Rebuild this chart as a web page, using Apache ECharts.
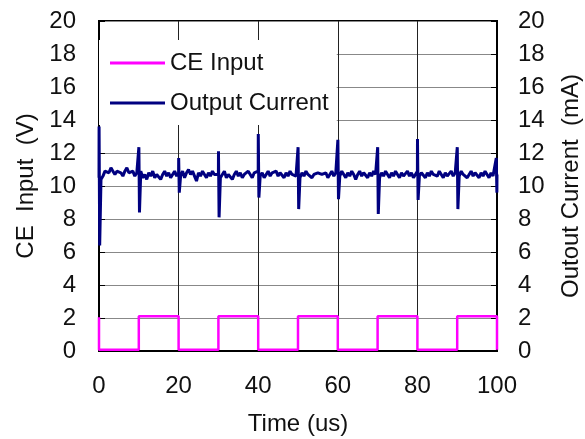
<!DOCTYPE html>
<html>
<head>
<meta charset="utf-8">
<script src="https://cdn.jsdelivr.net/npm/echarts@6/dist/echarts.min.js"></script>
<style>html,body{margin:0;padding:0;background:#fff}#c{width:585px;height:439px}</style>
</head>
<body>
<div id="c"></div>
<script>
// CE Input square wave: [time (us), volts]
const ceInput = [
  [0, 2.05], [0, 0.08], [10, 0.08], [10, 2.1], [20, 2.1], [20, 0.08],
  [30, 0.08], [30, 2.1], [40, 2.1], [40, 0.08], [50, 0.08], [50, 2.1],
  [60, 2.1], [60, 0.08], [70, 0.08], [70, 2.1], [80, 2.1], [80, 0.08],
  [90, 0.08], [90, 2.1], [100, 2.1], [100, 0.08]
];
// Output current baseline, sampled every 0.5 us from 0 to 100 (mA)
const currentStep = 0.5;
const currentBase = [
  10.5,10.4,10.6,10.9,11.0,10.8,11.1,10.9,10.7,10.9,11.0,10.8,10.6,10.9,11.1,10.8,10.7,10.9,10.6,10.8,
  10.7,10.9,10.5,10.7,10.4,10.8,10.6,10.9,10.5,10.7,10.8,10.4,10.7,10.9,10.6,10.8,10.5,10.7,10.9,10.6,
  10.8,10.6,10.9,10.5,10.8,11.0,10.7,10.9,10.6,10.3,10.8,10.6,10.9,10.7,10.5,10.8,10.6,10.9,10.7,10.8,
  10.7,10.5,10.6,10.9,10.5,10.7,10.8,10.4,10.7,10.9,10.6,10.8,10.5,10.7,10.6,10.9,10.7,10.5,10.8,10.7,
  10.9,10.6,10.8,10.5,10.7,10.9,10.6,10.8,10.7,10.9,10.6,10.8,10.7,10.5,10.8,10.6,10.9,10.7,10.8,10.6,
  10.7,10.5,10.8,10.6,10.9,10.7,10.8,10.5,10.7,10.6,10.8,10.9,10.7,10.6,10.8,10.5,10.7,10.9,10.6,10.8,
  10.8,10.6,10.9,10.7,10.5,10.8,10.6,10.9,10.7,10.4,10.7,10.9,10.6,10.8,10.7,10.5,10.8,10.6,10.9,10.7,
  10.7,10.5,10.8,10.6,10.9,10.7,10.5,10.8,10.6,10.9,10.7,10.5,10.8,10.6,10.7,10.9,10.6,10.8,10.5,10.7,
  10.9,10.6,10.8,10.7,10.5,10.8,10.6,10.9,10.7,10.8,10.6,10.9,10.7,10.5,10.8,10.6,10.7,10.9,10.6,10.8,
  10.8,10.6,10.9,10.7,10.8,10.5,10.7,10.9,10.6,10.8,10.7,10.5,10.8,10.6,10.9,10.7,10.5,10.8,10.6,10.7,
  10.7
];
// Switching spikes: [time (us), peak high, peak low]
const currentSpikes = [
  [0, 13.6, 6.4], [10, 12.35, 8.4], [20, 11.7, 9.6], [30, 12.1, 8.1],
  [40, 13.15, 9.3], [50, 12.35, 8.6], [60, 12.8, 9.2], [70, 12.35, 8.3],
  [80, 12.85, 9.15], [90, 12.35, 8.6], [99.8, 11.7, 9.6]
];
const xTicks = [0, 20, 40, 60, 80, 100];
const yTicks = [0, 2, 4, 6, 8, 10, 12, 14, 16, 18, 20];

const currentData = [];
for (let i = 0; i < currentBase.length; i++) {
  const t = i * currentStep;
  currentData.push([t, currentBase[i]]);
  currentSpikes.forEach(s => {
    if (s[0] >= t && s[0] < t + currentStep) {
      currentData.push([s[0] + 0.02, s[1]]);
      currentData.push([s[0] + 0.17, s[2]]);
    }
  });
}

const font = '"Liberation Sans", Arial, sans-serif';
const txt = '#111';
const fs = 24;
const chart = echarts.init(document.getElementById('c'));
chart.setOption({
  animation: false,
  backgroundColor: '#fff',
  textStyle: { fontFamily: font },
  grid: { left: 99, right: 88, top: 21, bottom: 88, containLabel: false, outerBoundsMode: 'none',
    show: true, borderColor: '#000', borderWidth: 2, backgroundColor: 'transparent' },
  legend: {
    orient: 'vertical', left: 99, top: 40,
    padding: [11, 8, 10, 11], itemGap: 16,
    backgroundColor: '#fff', borderWidth: 0, borderRadius: 0,
    itemWidth: 55, itemHeight: 3, icon: 'rect',
    textStyle: { fontFamily: font, fontSize: fs, color: txt, lineHeight: 24 },
    data: ['CE Input', 'Output Current']
  },
  xAxis: {
    type: 'value', min: 0, max: 100, interval: 20,
    name: 'Time (us)', nameLocation: 'middle', nameGap: 61,
    nameTextStyle: { fontFamily: font, fontSize: fs, color: txt },
    axisLine: { show: true, lineStyle: { color: '#000', width: 2 } },
    axisTick: { show: false },
    axisLabel: { fontFamily: font, fontSize: fs, color: txt, margin: 23,
      formatter: v => xTicks.includes(v) ? String(v) : '' },
    splitLine: { show: true, lineStyle: { color: '#222', width: 1 } }
  },
  yAxis: [{
    type: 'value', min: 0, max: 20, interval: 2, position: 'left',
    name: 'CE  Input  (V)', nameLocation: 'middle', nameGap: 59, nameRotate: 90,
    nameTextStyle: { fontFamily: font, fontSize: fs, color: txt },
    axisLine: { show: true, lineStyle: { color: '#000', width: 2 } },
    axisTick: { show: true, inside: true, length: 6, lineStyle: { color: '#000' } },
    axisLabel: { fontFamily: font, fontSize: fs, color: txt, margin: 23,
      formatter: v => yTicks.includes(v) ? String(v) : '' },
    splitLine: { show: true, lineStyle: { color: '#888', width: 1 } }
  }, {
    type: 'value', min: 0, max: 20, interval: 2, position: 'right',
    name: 'Outout Current  (mA)', nameLocation: 'middle', nameGap: 62, nameRotate: 90,
    nameTextStyle: { fontFamily: font, fontSize: fs, color: txt },
    axisLine: { show: true, lineStyle: { color: '#000', width: 2 } },
    axisTick: { show: true, inside: true, length: 6, lineStyle: { color: '#000' } },
    axisLabel: { fontFamily: font, fontSize: fs, color: txt, margin: 21,
      formatter: v => yTicks.includes(v) ? String(v) : '' },
    splitLine: { show: false }
  }],
  series: [{
    name: 'CE Input', type: 'line', yAxisIndex: 0, data: ceInput,
    showSymbol: false, symbol: 'none', clip: true,
    lineStyle: { color: '#ff00ff', width: 2.5 }, itemStyle: { color: '#ff00ff' }, z: 3
  }, {
    name: 'Output Current', type: 'line', yAxisIndex: 1, data: currentData,
    showSymbol: false, symbol: 'none', clip: true,
    lineStyle: { color: '#000080', width: 3 }, itemStyle: { color: '#000080' }, z: 3
  }]
});
</script>
</body>
</html>
